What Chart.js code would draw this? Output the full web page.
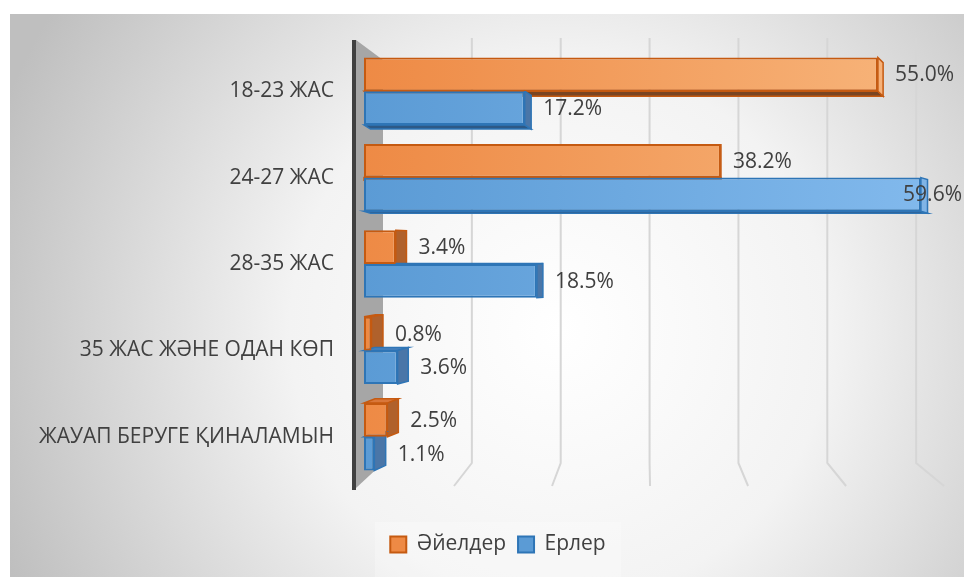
<!DOCTYPE html>
<html>
<head>
<meta charset="utf-8">
<script src="https://cdn.jsdelivr.net/npm/chart.js@4"></script>
<style>
  html, body { margin: 0; padding: 0; background: #ffffff; }
  #wrap { width: 964px; height: 577px; position: relative; }
</style>
</head>
<body>
<div id="wrap"><canvas id="chart" width="964" height="577"></canvas></div>
<script>
// Chart data
const categories = [
  "18-23 ЖАС",
  "24-27 ЖАС",
  "28-35 ЖАС",
  "35 ЖАС ЖӘНЕ ОДАН КӨП",
  "ЖАУАП БЕРУГЕ ҚИНАЛАМЫН",
];
const seriesNames = ["Әйелдер", "Ерлер"];
const womenValues = [55.0, 38.2, 3.4, 0.8, 2.5];
const menValues = [17.2, 59.6, 18.5, 3.6, 1.1];
const gridTicks = [10, 20, 30, 40, 50, 60];

const FONT = "'Open Sans', 'Noto Sans', sans-serif";
const TEXT = "#404040";

// colours per series
const palette = [
  { from: "#ee8a45", to: "#f8b87f", border: "#c55a11", side: "#b0612c", lit: "#f6b27a", bottom: "#7a4522", top: "#d9773a" },
  { from: "#5b9bd5", to: "#84bbee", border: "#2e75b6", side: "#4a76a8", lit: "#80b4e6", bottom: "#2d5986", top: "#4a82be" },
];

function barFill(idx) {
  return (ctx) => {
    const area = ctx.chart.chartArea;
    if (!area) return palette[idx].from;
    const g = ctx.chart.ctx.createLinearGradient(area.left, 0, area.right, 0);
    g.addColorStop(0, palette[idx].from);
    g.addColorStop(1, palette[idx].to);
    return g;
  };
}

// 3D depth offsets for a bar, depending on where it sits
function depth(xEnd, yMid) {
  return {
    dx: Math.abs(720 - xEnd) * 0.033,
    dy: Math.max(-5.5, Math.min(5.5, (263 - yMid) * 0.027)),
  };
}

// background, side wall, back gridlines, 3D faces and value labels
const backdrop = {
  id: "backdrop",
  beforeDraw(chart) {
    const c = chart.ctx;
    const xs = chart.scales.x;
    c.save();
    c.fillStyle = "#ffffff";
    c.fillRect(0, 0, chart.width, chart.height);
    const rg = c.createRadialGradient(560, 330, 0, 560, 330, 600);
    rg.addColorStop(0, "#ffffff");
    rg.addColorStop(0.45, "#f3f3f3");
    rg.addColorStop(1, "#bfbfbf");
    c.fillStyle = rg;
    c.fillRect(10, 14, chart.width - 10, chart.height - 14);

    // lighter legend panel
    const lg = chart.legend;
    c.fillStyle = "rgba(255,255,255,0.25)";
    c.fillRect(lg.left + (lg.width - 246) / 2, lg.top, 246, chart.height - lg.top);

    const x0 = xs.getPixelForValue(0);
    const backTop = 38, backBottom = 463, floorY = 486;
    c.strokeStyle = "#d6d6d6";
    c.lineWidth = 2;
    gridTicks.forEach((v) => {
      const front = xs.getPixelForValue(v) - x0;
      const bx = 383 + front * 0.951;
      const fx = 356 + front * 1.049;
      c.beginPath();
      c.moveTo(bx, backTop);
      c.lineTo(bx, backBottom);
      c.lineTo(fx, floorY);
      c.stroke();
    });

    // side wall
    c.fillStyle = "#a6a6a6";
    c.beginPath();
    c.moveTo(356, 40);
    c.lineTo(383, 60);
    c.lineTo(383, backBottom);
    c.lineTo(356, floorY + 2);
    c.closePath();
    c.fill();
    c.fillStyle = "#404040";
    c.fillRect(352, 40, 4, 450);
    c.restore();
  },
  beforeDatasetsDraw(chart) {
    const c = chart.ctx;
    c.save();
    chart.data.datasets.forEach((ds, di) => {
      const p = palette[di];
      chart.getDatasetMeta(di).data.forEach((bar) => {
        const x0 = bar.base, x1 = bar.x;
        const y0 = bar.y - bar.height / 2, y1 = bar.y + bar.height / 2;
        const { dx, dy } = depth(x1, bar.y);
        c.beginPath();
        if (dy > 0) {
          c.moveTo(x0, y1);
          c.lineTo(x1, y1);
          c.lineTo(x1 + dx, y1 + dy);
          c.lineTo(x0 + dx, y1 + dy);
          c.fillStyle = p.bottom;
        } else {
          c.moveTo(x0, y0);
          c.lineTo(x1, y0);
          c.lineTo(x1 + dx, y0 + dy);
          c.lineTo(x0 + dx, y0 + dy);
          c.fillStyle = p.top;
        }
        c.closePath();
        c.fill();
        c.strokeStyle = p.border;
        c.lineWidth = 1.5;
        c.stroke();
        c.beginPath();
        c.moveTo(x1, y0);
        c.lineTo(x1 + dx, y0 + dy);
        c.lineTo(x1 + dx, y1 + dy);
        c.lineTo(x1, y1);
        c.closePath();
        c.fillStyle = x1 > 720 ? p.lit : p.side;
        c.fill();
        c.stroke();
      });
    });
    c.restore();
  },
  afterDatasetsDraw(chart) {
    const c = chart.ctx;
    c.save();
    c.font = "21px " + FONT;
    c.fillStyle = TEXT;
    c.textBaseline = "middle";
    chart.data.datasets.forEach((ds, di) => {
      chart.getDatasetMeta(di).data.forEach((bar, i) => {
        const label = ds.data[i].toFixed(1) + "%";
        const w = c.measureText(label).width;
        const { dx } = depth(bar.x, bar.y);
        let x = bar.x + dx + 12;
        if (x + w > chart.width - 2) x = chart.width - 2 - w;
        c.fillText(label, x, bar.y + 1);
      });
    });
    c.restore();
  },
};

document.addEventListener("DOMContentLoaded", function () {
  const ctx = document.getElementById("chart").getContext("2d");
  new Chart(ctx, {
    type: "bar",
    data: {
      labels: categories,
      datasets: [
        {
          label: seriesNames[0],
          data: womenValues,
          backgroundColor: barFill(0),
          borderColor: palette[0].border,
          borderWidth: 2,
          borderSkipped: false,
        },
        {
          label: seriesNames[1],
          data: menValues,
          backgroundColor: barFill(1),
          borderColor: palette[1].border,
          borderWidth: 2,
          borderSkipped: false,
        },
      ],
    },
    options: {
      indexAxis: "y",
      responsive: false,
      animation: false,
      events: [],
      categoryPercentage: 0.78,
      barPercentage: 1,
      layout: { padding: { left: 34, top: 48, right: 2, bottom: 12 } },
      scales: {
        x: {
          min: 0,
          max: 64,
          ticks: { display: false, stepSize: 10 },
          grid: { display: false },
          border: { display: false },
          afterFit: (scale) => { scale.height = 42; },
        },
        y: {
          ticks: { color: TEXT, font: { family: FONT, size: 21 }, padding: 30 },
          grid: { display: false, drawTicks: false },
          border: { display: false },
          afterFit: (scale) => { scale.width = 330; },
        },
      },
      plugins: {
        tooltip: { enabled: false },
        legend: {
          position: "bottom",
          labels: {
            color: TEXT,
            font: { family: FONT, size: 21 },
            boxWidth: 16,
            boxHeight: 16,
            padding: 12,
            generateLabels: () =>
              seriesNames.map((name, i) => ({
                text: name,
                fillStyle: palette[i].from,
                strokeStyle: palette[i].border,
                lineWidth: 2,
                fontColor: TEXT,
                datasetIndex: i,
              })),
          },
        },
      },
    },
    plugins: [backdrop],
  });
});
</script>
</body>
</html>
